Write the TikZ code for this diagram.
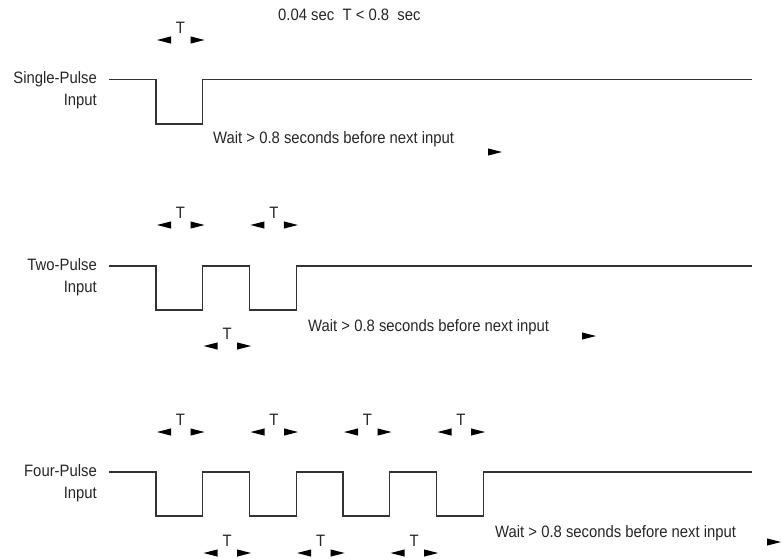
\documentclass[tikz,border=0pt]{standalone}
\usepackage{fontspec}
\setmainfont[FakeStretch=0.9]{Liberation Sans}
\begin{document}
\begin{tikzpicture}[x=1pt,y=-1pt,
  wave/.style={line width=1.2pt,draw=black!80,line join=miter},
  lbl/.style={font=\fontsize{16.5}{19}\selectfont,inner sep=0pt,text=black!85},
  tip/.style={fill=black}]
\useasboundingbox (0,0) rectangle (783,558);
\newcommand\ltip[2]{\fill[tip] (#1,#2) -- (#1+14,#2-3.6) -- (#1+14,#2+3.6) -- cycle;}
\newcommand\rtip[2]{\fill[tip] (#1,#2) -- (#1-14,#2-3.6) -- (#1-14,#2+3.6) -- cycle;}
\newcommand\tpair[3]{% name, center x, arrow y
  \node[lbl,anchor=base] (#1) at (#2,#3-7) {T};
  \ltip{#2-23.5}{#3}\rtip{#2+24}{#3}}
% edges
\def\ea{156}\def\eb{202.75}\def\ec{249.5}\def\ed{296.25}
\def\ee{343}\def\ef{389.75}\def\eg{436.5}\def\eh{483.25}

% top caption
\node[lbl,anchor=base west] (cap) at (278,20) {0.04 sec\ \ T < 0.8\ \ sec};

% ---------- single pulse
\node[lbl,anchor=base east] (s1) at (97,83) {Single-Pulse};
\node[lbl,anchor=base east] (s2) at (97,105) {Input};
\draw[wave] (109,79.5) -- (\ea,79.5) -- (\ea,124) -- (\eb,124) -- (\eb,79.5) -- (752,79.5);
\tpair{ts1}{180.5}{40}
\node[lbl,anchor=base west] (sw) at (213,143) {Wait > 0.8 seconds before next input};
\rtip{502}{152}

% ---------- two pulse
\node[lbl,anchor=base east] (t1) at (97,270) {Two-Pulse};
\node[lbl,anchor=base east] (t2) at (97,292) {Input};
\draw[wave] (109,266) -- (\ea,266) -- (\ea,310) -- (\eb,310) -- (\eb,266) -- (\ec,266)
  -- (\ec,310) -- (\ed,310) -- (\ed,266) -- (752,266);
\tpair{tt1}{180.5}{225}
\tpair{tt2}{273.9}{225}
\tpair{tt3}{227.1}{346}
\node[lbl,anchor=base west] (tw) at (308,331) {Wait > 0.8 seconds before next input};
\rtip{596}{336}

% ---------- four pulse
\node[lbl,anchor=base east] (f1) at (97,476) {Four-Pulse};
\node[lbl,anchor=base east] (f2) at (97,498) {Input};
\draw[wave] (109,472) -- (\ea,472) -- (\ea,516) -- (\eb,516) -- (\eb,472) -- (\ec,472)
  -- (\ec,516) -- (\ed,516) -- (\ed,472) -- (\ee,472)
  -- (\ee,516) -- (\ef,516) -- (\ef,472) -- (\eg,472)
  -- (\eg,516) -- (\eh,516) -- (\eh,472) -- (752,472);
\tpair{ft1}{180.5}{432}
\tpair{ft2}{274}{432}
\tpair{ft3}{367.5}{432}
\tpair{ft4}{461}{432}
\tpair{fb1}{227.1}{553}
\tpair{fb2}{320.6}{553}
\tpair{fb3}{414.1}{553}
\node[lbl,anchor=base west] (fw) at (495,537) {Wait > 0.8 seconds before next input};
\rtip{781}{542}
\end{tikzpicture}
\end{document}
